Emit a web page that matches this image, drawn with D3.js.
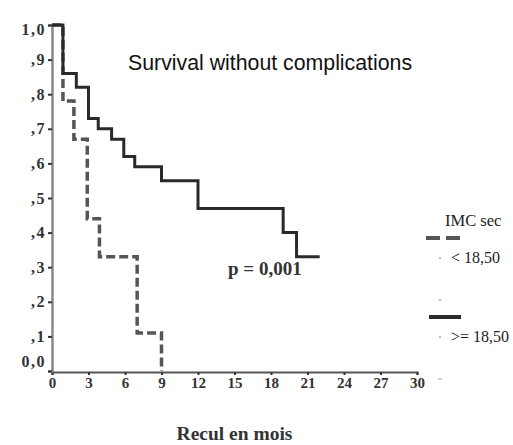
<!DOCTYPE html>
<html>
<head>
<meta charset="utf-8">
<script src="https://cdn.jsdelivr.net/npm/d3@7"></script>
<style>
  body { margin: 0; background: #fff; }
  svg { display: block; }
  .tick text { font-family: "Liberation Serif", "Times New Roman", serif; font-weight: bold; fill: #333; }
</style>
</head>
<body>
<script>
var width = 513,
    height = 445;

// survival curves (months, cumulative survival)
var monthsHigh = [0, 0.9, 2.0, 3.0, 3.8, 4.9, 5.9, 6.8, 9.0, 12.0, 19.0, 20.1, 22.0];
var survHigh   = [1.0, 0.86, 0.82, 0.73, 0.70, 0.67, 0.62, 0.59, 0.55, 0.47, 0.40, 0.33, 0.33];

var monthsLow = [0, 0.9, 1.8, 2.9, 3.9, 7.0, 9.0];
var survLow   = [1.0, 0.78, 0.67, 0.44, 0.33, 0.11, 0.0];

var xTicks = [0, 3, 6, 9, 12, 15, 18, 21, 24, 27, 30];
var yTicks = [0, 0.1, 0.2, 0.3, 0.4, 0.5, 0.6, 0.7, 0.8, 0.9, 1.0];
var yTickLabels = ["0,0", ",1", ",2", ",3", ",4", ",5", ",6", ",7", ",8", ",9", "1,0"];

var legendLabels = ["< 18,50", ">= 18,50"];

var svg = d3.select("body").append("svg")
    .attr("width", width)
    .attr("height", height);

var x = d3.scaleLinear()
    .domain([0, 30])
    .range([52, 417]);

var y = d3.scaleLinear()
    .domain([0, 1])
    .range([371, 25]);

// axes
var xAxis = svg.append("g")
    .attr("transform", "translate(0," + (y(0) + 1) + ")")
    .call(d3.axisBottom(x).tickValues(xTicks).tickSizeOuter(0).tickSize(3).tickPadding(2)
        .tickFormat(function(d) { return d; }));
xAxis.select(".domain").attr("stroke", "#555").attr("stroke-width", 2);
xAxis.selectAll(".tick line").attr("stroke", "#333").attr("stroke-width", 2);
xAxis.selectAll(".tick text").attr("font-size", 15);

var yAxis = svg.append("g")
    .attr("transform", "translate(" + x(0) + ",0)")
    .call(d3.axisLeft(y).tickValues(yTicks).tickSizeOuter(0).tickSize(4).tickPadding(2)
        .tickFormat(function(d, i) { return yTickLabels[i]; }));
yAxis.select(".domain").attr("stroke", "#888").attr("stroke-width", 2.5);
yAxis.selectAll(".tick line").attr("stroke", "#333").attr("stroke-width", 2);
yAxis.selectAll(".tick text")
    .attr("font-size", 16)
    .attr("letter-spacing", 1.5)
    .attr("dy", function(d) {
        if (d === 0) return "-0.3em";
        if (d === 1) return "0.6em";
        return "0.32em";
    });

// curves
var line = d3.line()
    .x(function(d) { return x(d[0]); })
    .y(function(d) { return y(d[1]); })
    .curve(d3.curveStepAfter);

svg.append("path")
    .datum(d3.zip(monthsLow, survLow))
    .attr("fill", "none")
    .attr("stroke", "#555")
    .attr("stroke-width", 3.5)
    .attr("stroke-dasharray", "9,4")
    .attr("d", line);

svg.append("path")
    .datum(d3.zip(monthsHigh, survHigh))
    .attr("fill", "none")
    .attr("stroke", "#2a2a2a")
    .attr("stroke-width", 3)
    .attr("d", line);

// texts
svg.append("text")
    .attr("x", 128)
    .attr("y", 70)
    .attr("font-family", "'Liberation Sans', Arial, sans-serif")
    .attr("font-size", 21.3)
    .attr("fill", "#111")
    .text("Survival without complications");

svg.append("text")
    .attr("x", 228)
    .attr("y", 275)
    .attr("font-family", "'Liberation Serif', 'Times New Roman', serif")
    .attr("font-weight", "bold")
    .attr("font-size", 19)
    .attr("fill", "#333")
    .text("p = 0,001");

svg.append("text")
    .attr("x", (x(0) + x(30)) / 2)
    .attr("y", 440)
    .attr("text-anchor", "middle")
    .attr("font-family", "'Liberation Serif', 'Times New Roman', serif")
    .attr("font-weight", "bold")
    .attr("font-size", 19.5)
    .attr("fill", "#333")
    .text("Recul en mois");

// legend
var legend = svg.append("g")
    .attr("font-family", "'Liberation Serif', 'Times New Roman', serif")
    .attr("fill", "#222");

legend.append("text")
    .attr("x", 445)
    .attr("y", 226)
    .attr("font-size", 16.5)
    .text("IMC sec");

var items = legend.selectAll(".item")
    .data(legendLabels)
    .enter().append("g")
    .attr("class", "item")
    .attr("transform", function(d, i) { return "translate(0," + (i * 79) + ")"; });

items.append("line")
    .attr("x1", function(d, i) { return i === 0 ? 426 : 429; })
    .attr("x2", 461)
    .attr("y1", 238)
    .attr("y2", 238)
    .attr("stroke", function(d, i) { return i === 0 ? "#555" : "#2a2a2a"; })
    .attr("stroke-width", 4)
    .attr("stroke-dasharray", function(d, i) { return i === 0 ? "14,6" : null; });

items.append("circle")
    .attr("cx", 440)
    .attr("cy", 258)
    .attr("r", 1)
    .attr("fill", "#aaa");

items.append("line")
    .attr("x1", 438)
    .attr("x2", 442)
    .attr("y1", 300)
    .attr("y2", 300)
    .attr("stroke", "#aaa")
    .attr("stroke-width", 1);

items.append("text")
    .attr("x", 451)
    .attr("y", 263)
    .attr("font-size", 16)
    .text(function(d) { return d; });
</script>
</body>
</html>
